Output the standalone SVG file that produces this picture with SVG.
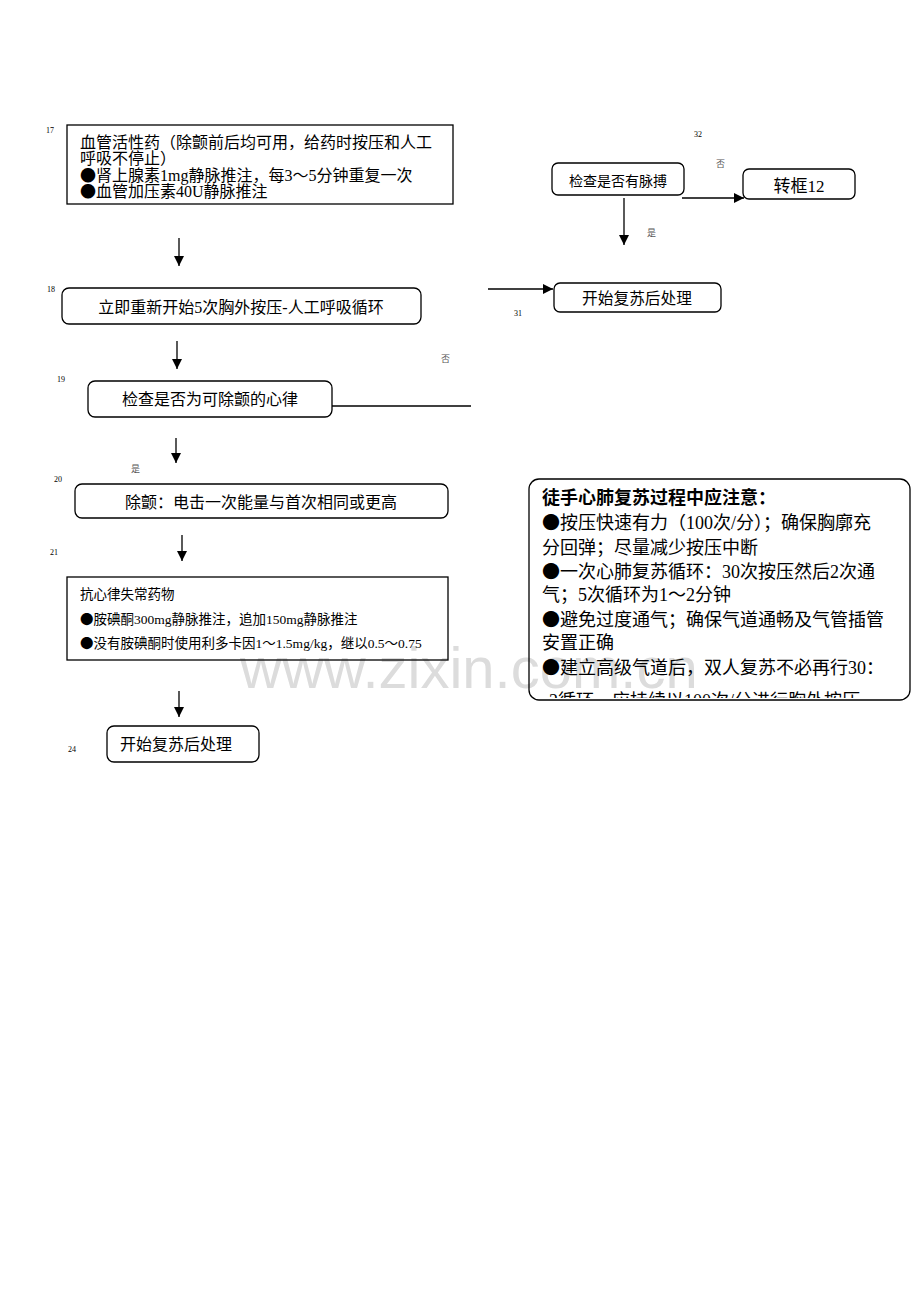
<svg xmlns="http://www.w3.org/2000/svg" width="920" height="1302" viewBox="0 0 920 1302">
<defs>
<style>
.bx{fill:none;stroke:#000;stroke-width:1.3}
.t{font-family:"Liberation Serif","Noto Sans CJK SC",serif;fill:#000}
.b{font-family:"Noto Sans CJK SC",sans-serif}
.n{font-family:"Liberation Serif",serif;font-size:8px;fill:#000}
.s{font-family:"Noto Sans CJK SC",sans-serif;font-size:9px;fill:#555}
.ln{stroke:#000;stroke-width:1.3;fill:none}
.wm{font-family:"Liberation Sans","Noto Sans",sans-serif;font-size:58px;fill:#dcdcdc;font-weight:300}
</style>
<marker id="ah" viewBox="0 0 10 10" refX="10" refY="5" markerWidth="10" markerHeight="10" markerUnits="userSpaceOnUse" orient="auto">
<path d="M0,0 L10,5 L0,10 z" fill="#000"/>
</marker>
<clipPath id="nc"><rect x="530" y="480" width="379" height="218"/></clipPath>
</defs>
<rect width="920" height="1302" fill="#fff"/>

<text class="wm" x="240" y="688">www.zixin.com.cn</text>

<g id="node17">
<text class="n" x="46" y="133">17</text>
<rect class="bx" x="67" y="125" width="386" height="79"/>
<text class="t" font-size="16" x="80" y="148">血管活性药（除颤前后均可用，给药时按压和人工</text>
<text class="t" font-size="16" x="80" y="164">呼吸不停止）</text>
<text class="t" font-size="16" x="80" y="181"><tspan class="b">●</tspan>肾上腺素1mg静脉推注，每3～5分钟重复一次</text>
<text class="t" font-size="16" x="80" y="197"><tspan class="b">●</tspan>血管加压素40U静脉推注</text>
</g>

<g id="node18">
<text class="n" x="47" y="292">18</text>
<rect class="bx" x="62" y="288" width="359" height="36" rx="7"/>
<text class="t" font-size="16" x="241" y="313" text-anchor="middle">立即重新开始5次胸外按压-人工呼吸循环</text>
</g>

<g id="node19">
<text class="n" x="57" y="382">19</text>
<rect class="bx" x="88" y="381" width="244" height="36" rx="7"/>
<text class="t" font-size="16" x="210" y="405" text-anchor="middle">检查是否为可除颤的心律</text>
</g>

<g id="node20">
<text class="n" x="54" y="482">20</text>
<rect class="bx" x="75" y="484" width="373" height="34" rx="7"/>
<text class="t" font-size="16" x="261" y="508" text-anchor="middle">除颤：电击一次能量与首次相同或更高</text>
</g>

<g id="node21">
<text class="n" x="50" y="555">21</text>
<rect class="bx" x="67" y="577" width="381" height="83"/>
<text class="t" font-size="13.5" x="80" y="599">抗心律失常药物</text>
<text class="t" font-size="13.5" x="80" y="624"><tspan class="b">●</tspan>胺碘酮300mg静脉推注，追加150mg静脉推注</text>
<text class="t" font-size="13.5" x="80" y="648"><tspan class="b">●</tspan>没有胺碘酮时使用利多卡因1～1.5mg/kg，继以0.5～0.75</text>
</g>

<g id="node24">
<text class="n" x="68" y="752">24</text>
<rect class="bx" x="107" y="726" width="152" height="36" rx="7"/>
<text class="t" font-size="16" x="120" y="750">开始复苏后处理</text>
</g>

<g id="node32">
<text class="n" x="694" y="137">32</text>
<rect class="bx" x="552" y="163" width="132" height="32" rx="6"/>
<text class="t" font-size="14" x="618" y="186" text-anchor="middle">检查是否有脉搏</text>
</g>

<g id="node12">
<rect class="bx" x="743" y="169" width="112" height="30" rx="6"/>
<text class="t" font-size="17" x="799" y="192" text-anchor="middle">转框12</text>
</g>

<g id="node31">
<text class="n" x="514" y="316">31</text>
<rect class="bx" x="554" y="283" width="167" height="29" rx="6"/>
<text class="t" font-size="15.7" x="637" y="304" text-anchor="middle">开始复苏后处理</text>
</g>

<g id="note">
<rect class="bx" x="529" y="479" width="381" height="221" rx="10"/>
<g clip-path="url(#nc)">
<text class="t" font-size="18" font-weight="bold" x="542" y="504">徒手心肺复苏过程中应注意：</text>
<text class="t" font-size="18" x="542" y="529"><tspan class="b">●</tspan>按压快速有力（100次/分）；确保胸廓充</text>
<text class="t" font-size="18" x="542" y="554">分回弹；尽量减少按压中断</text>
<text class="t" font-size="18" x="542" y="578"><tspan class="b">●</tspan>一次心肺复苏循环：30次按压然后2次通</text>
<text class="t" font-size="18" x="542" y="601">气；5次循环为1～2分钟</text>
<text class="t" font-size="18" x="542" y="626"><tspan class="b">●</tspan>避免过度通气；确保气道通畅及气管插管</text>
<text class="t" font-size="18" x="542" y="649">安置正确</text>
<text class="t" font-size="18" x="542" y="674"><tspan class="b">●</tspan>建立高级气道后，双人复苏不必再行30：</text>
<text class="t" font-size="18" x="549" y="707">2循环，应持续以100次/分进行胸外按压，</text>
</g>
</g>

<g id="connectors">
<line class="ln" x1="179" y1="238" x2="179" y2="266" marker-end="url(#ah)"/>
<line class="ln" x1="177" y1="341" x2="177" y2="369" marker-end="url(#ah)"/>
<line class="ln" x1="332" y1="406" x2="471" y2="406"/>
<text class="s" x="441" y="362">否</text>
<line class="ln" x1="176" y1="438" x2="176" y2="463" marker-end="url(#ah)"/>
<text class="s" x="131" y="472">是</text>
<line class="ln" x1="182" y1="535" x2="182" y2="561" marker-end="url(#ah)"/>
<line class="ln" x1="179" y1="691" x2="179" y2="717" marker-end="url(#ah)"/>
<line class="ln" x1="682" y1="198" x2="744" y2="198" marker-end="url(#ah)"/>
<text class="s" x="716" y="167">否</text>
<line class="ln" x1="624" y1="198" x2="624" y2="245" marker-end="url(#ah)"/>
<text class="s" x="647" y="236">是</text>
<line class="ln" x1="488" y1="289" x2="553" y2="289" marker-end="url(#ah)"/>
</g>
</svg>
